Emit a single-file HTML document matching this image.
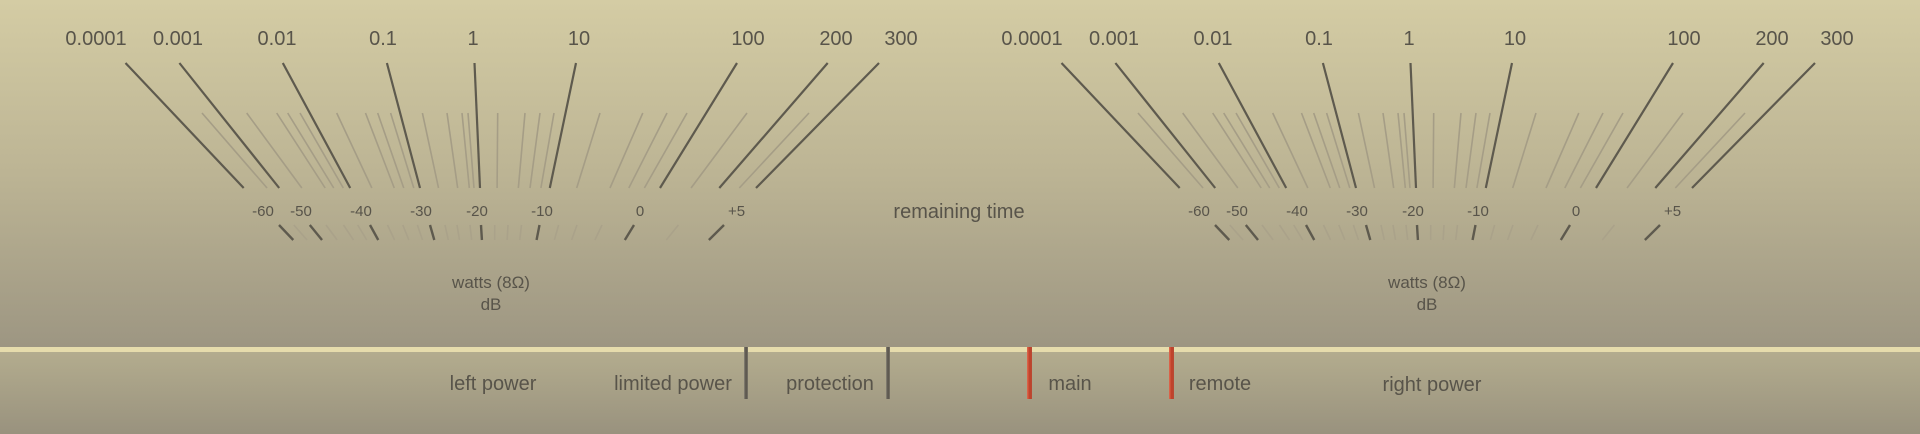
<!DOCTYPE html>
<html><head><meta charset="utf-8"><style>
html,body{margin:0;padding:0}
body{width:1920px;height:434px;overflow:hidden;font-family:"Liberation Sans",sans-serif;}
svg{display:block}
</style></head><body>
<svg id="s" width="1920" height="434" xmlns="http://www.w3.org/2000/svg">
<defs>
<linearGradient id="g1" x1="0" y1="0" x2="0" y2="1">
<stop offset="0" stop-color="#d4cca4"/><stop offset="0.5" stop-color="#bcb494"/><stop offset="1" stop-color="#9d9682"/>
</linearGradient>
<linearGradient id="g2" x1="0" y1="0" x2="0" y2="1">
<stop offset="0" stop-color="#b3ac8e"/><stop offset="1" stop-color="#99927e"/>
</linearGradient>
<linearGradient id="gs" x1="0" y1="0" x2="1" y2="0">
<stop offset="0" stop-color="#8a8578"/><stop offset="0.5" stop-color="#555048"/><stop offset="1" stop-color="#7a7568"/>
</linearGradient>
<linearGradient id="gr" x1="0" y1="0" x2="1" y2="0">
<stop offset="0" stop-color="#e06a50"/><stop offset="0.5" stop-color="#c04028"/><stop offset="1" stop-color="#b84a34"/>
</linearGradient>
</defs>
<rect x="0" y="0" width="1920" height="347" fill="url(#g1)"/>
<rect x="0" y="352" width="1920" height="82" fill="url(#g2)"/>
<rect x="0" y="347" width="1920" height="5" fill="#e6dcac"/>
<g id="m"></g>
<g font-size="20" fill="#58544a" text-anchor="middle">
<text x="959" y="218">remaining time</text>
<text x="493" y="390">left power</text>
<text x="673" y="390">limited power</text>
<text x="830" y="390">protection</text>
<text x="1070" y="390">main</text>
<text x="1220" y="390">remote</text>
<text x="1432" y="391">right power</text>
</g>
<rect x="744" y="347" width="4" height="52" fill="url(#gs)"/>
<rect x="886" y="347" width="4" height="52" fill="url(#gs)"/>
<rect x="1027" y="347" width="5" height="52" fill="url(#gr)"/>
<rect x="1169" y="347" width="5" height="52" fill="url(#gr)"/>
</svg>
<script>
var m=document.getElementById('m'),h='';
var P=495,PY=451;
var majT=[[125.5,243.7,'0.0001',96],[179.4,279.2,'0.001',178],[282.8,350.2,'0.01',277],[386.9,420,'0.1',383],[474.5,480,'1',473],[576,549.8,'10',579],[737,660,'100',748],[827.7,719.3,'200',836],[879,756,'300',901]];
var minT=[202,246.7,276.7,287.7,300,336.7,365.5,377.7,390.6,422.4,447,462,468,497.7,525,540,554,600,642.8,667,687,747,809];
var dbMaj=[[279,'-60',263],[309.8,'-50',301],[370,'-40',361],[430,'-30',421],[481,'-20',477],[539.5,'-10',542],[634,'0',640],[724,'+5',736.5]];
var dbMin=[293.8,326,343.5,357.7,387.5,402.8,417.4,445,457,470,494.7,508,521.5,558.6,577,602,678.4];
function L(x1,y1,x2,y2,c,w){h+='<line x1="'+x1+'" y1="'+y1+'" x2="'+x2+'" y2="'+y2+'" stroke="'+c+'" stroke-width="'+w+'"/>';}
function T(x,y,s,fs){h+='<text x="'+x+'" y="'+y+'" font-size="'+fs+'" fill="#58544a" text-anchor="middle">'+s+'</text>';}
[0,936].forEach(function(o){
 minT.forEach(function(x){var xb=P+(x-P)*0.778;L(x+o,113,xb+o,188,'#a59d86',1.6);});
 majT.forEach(function(a){L(a[0]+o,63,a[1]+o,188,'#5e5a4e',2.2);T(a[3]+o,45,a[2],20);});
 dbMin.forEach(function(x){var xb=P+(x-P)*0.934;L(x+o,225,xb+o,240,'#aaa28a',1.6);});
 dbMaj.forEach(function(a){var xb=P+(a[0]-P)*0.934;L(a[0]+o,225,xb+o,240,'#5e5a4e',2.4);T(a[2]+o,216,a[1],15);});
 T(491+o,288,'watts (8Ω)',17);T(491+o,310,'dB',17);
});
m.innerHTML=h;
</script>
</body></html>
